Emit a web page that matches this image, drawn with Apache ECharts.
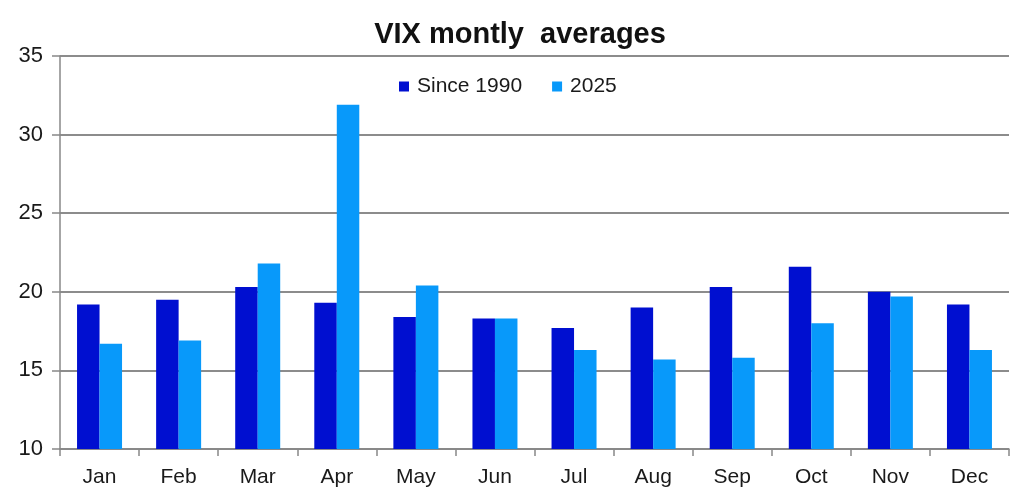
<!DOCTYPE html>
<html>
<head>
<meta charset="utf-8">
<script src="https://cdn.jsdelivr.net/npm/echarts@6/dist/echarts.min.js"></script>
<style>html,body{margin:0;padding:0;background:#fff}#c{width:1024px;height:490px}</style>
</head>
<body>
<div id="c"></div>
<script>
const months = ['Jan','Feb','Mar','Apr','May','Jun','Jul','Aug','Sep','Oct','Nov','Dec'];
const since1990 = [19.2, 19.5, 20.3, 19.3, 18.4, 18.3, 17.7, 19.0, 20.3, 21.6, 20.0, 19.2];
const y2025 = [16.7, 16.9, 21.8, 31.9, 20.4, 18.3, 16.3, 15.7, 15.8, 18.0, 19.7, 16.3];
const seriesNames = ['Since 1990', '2025'];

const chart = echarts.init(document.getElementById('c'));
const font = 'Liberation Sans, Arial, sans-serif';
chart.setOption({
  animation: false,
  title: {
    text: 'VIX montly  averages',
    left: 515, top: 15, textAlign: 'center',
    textStyle: { fontFamily: font, fontWeight: 'bold', fontSize: 29, color: '#111' }
  },
  legend: {
    data: seriesNames,
    left: 394, top: 71,
    itemWidth: 10, itemHeight: 10, itemGap: 30,
    icon: 'rect',
    textStyle: { fontFamily: font, fontSize: 21, color: '#1a1a1a', padding: [0,0,0,3] }
  },
  grid: { left: 60, right: 15, top: 56, bottom: 41, containLabel: false },
  xAxis: {
    type: 'category', data: months,
    axisLine: { lineStyle: { color: '#888', width: 1.5 } },
    axisTick: { show: true, length: 7, lineStyle: { color: '#888', width: 1.5 } },
    axisLabel: { fontFamily: font, fontSize: 21, color: '#1a1a1a', margin: 18 }
  },
  yAxis: {
    type: 'value', min: 10, max: 35, interval: 5,
    axisLine: { show: true, lineStyle: { color: '#888', width: 1.5 } },
    axisTick: { show: true, length: 8, lineStyle: { color: '#888', width: 1.5 } },
    axisLabel: { fontFamily: font, fontSize: 22, color: '#1a1a1a', margin: 17 },
    splitLine: { lineStyle: { color: '#666', width: 1.5 } }
  },
  series: [
    { name: seriesNames[0], type: 'bar', data: since1990, barWidth: 22.5, barGap: '0%',
      itemStyle: { color: '#000FD0' } },
    { name: seriesNames[1], type: 'bar', data: y2025, barWidth: 22.5, barGap: '0%',
      itemStyle: { color: '#0899FA' } }
  ]
});
</script>
</body>
</html>
